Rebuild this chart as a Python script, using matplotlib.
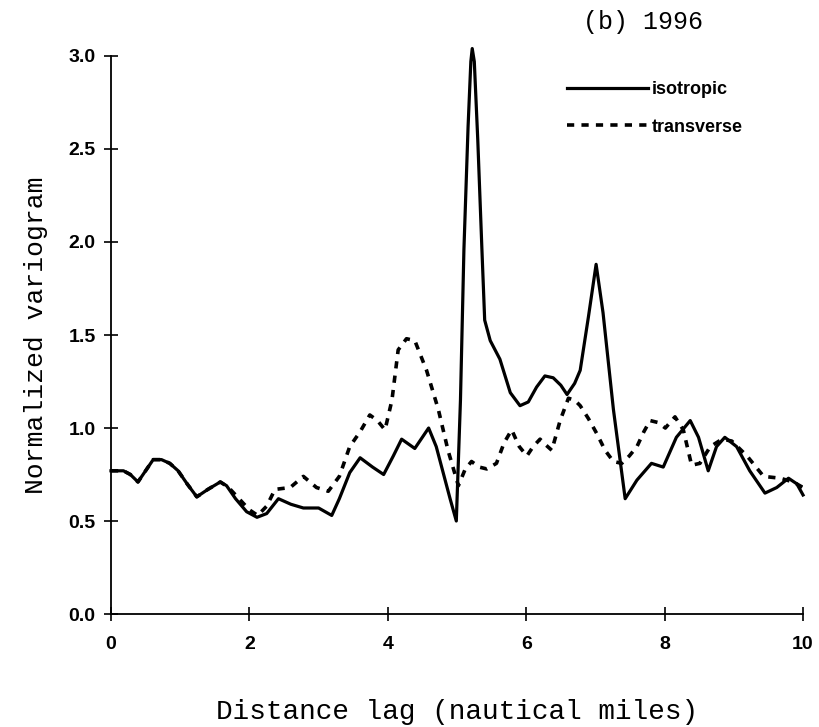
import matplotlib
matplotlib.use("Agg")
import matplotlib.pyplot as plt

# distance lag (nautical miles) and normalized variogram values
iso_x = [0.00, 0.18, 0.28, 0.39, 0.50, 0.61, 0.73, 0.85, 0.97, 1.10,
         1.24, 1.40, 1.58, 1.67, 1.80, 1.96, 2.11, 2.25, 2.42, 2.60,
         2.78, 3.00, 3.19, 3.30, 3.45, 3.60, 3.78, 3.94, 4.08, 4.20,
         4.39, 4.59, 4.70, 4.80, 4.90, 4.99, 5.05, 5.10, 5.16, 5.20,
         5.22, 5.25, 5.30, 5.36, 5.40, 5.48, 5.62, 5.77, 5.91, 6.03,
         6.15, 6.27, 6.39, 6.50, 6.59, 6.70, 6.78, 6.90, 7.01, 7.11,
         7.26, 7.43, 7.60, 7.81, 7.98, 8.17, 8.37, 8.49, 8.63, 8.75,
         8.87, 9.04, 9.23, 9.45, 9.62, 9.79, 9.91, 10.0]
iso_y = [0.77, 0.77, 0.75, 0.71, 0.77, 0.83, 0.83, 0.81, 0.77, 0.70,
         0.63, 0.67, 0.71, 0.69, 0.62, 0.55, 0.52, 0.54, 0.62, 0.59,
         0.57, 0.57, 0.53, 0.62, 0.76, 0.84, 0.79, 0.75, 0.85, 0.94,
         0.89, 1.00, 0.90, 0.76, 0.62, 0.50, 1.15, 1.96, 2.62, 2.97,
         3.04, 2.97, 2.55, 1.96, 1.58, 1.47, 1.37, 1.19, 1.12, 1.14,
         1.22, 1.28, 1.27, 1.23, 1.18, 1.24, 1.31, 1.60, 1.88, 1.62,
         1.10, 0.62, 0.72, 0.81, 0.79, 0.95, 1.04, 0.95, 0.77, 0.90,
         0.95, 0.90, 0.77, 0.65, 0.68, 0.73, 0.70, 0.64]

tr_x = [0.00, 0.18, 0.28, 0.39, 0.50, 0.61, 0.73, 0.85, 0.97, 1.10,
        1.24, 1.40, 1.58, 1.70, 1.85, 2.00, 2.12, 2.25, 2.37, 2.59,
        2.78, 2.97, 3.14, 3.30, 3.45, 3.60, 3.74, 3.85, 3.96, 4.06,
        4.15, 4.27, 4.39, 4.56, 4.73, 4.87, 5.02, 5.12, 5.21, 5.32,
        5.43, 5.57, 5.68, 5.79, 5.90, 6.01, 6.10, 6.20, 6.28, 6.37,
        6.49, 6.61, 6.70, 6.78, 6.90, 7.02, 7.14, 7.26, 7.38, 7.49,
        7.60, 7.70, 7.79, 7.90, 8.01, 8.15, 8.27, 8.39, 8.51, 8.66,
        8.83, 8.97, 9.19, 9.43, 9.67, 9.86, 10.0]
tr_y = [0.77, 0.77, 0.75, 0.71, 0.77, 0.83, 0.83, 0.81, 0.77, 0.70,
        0.63, 0.67, 0.71, 0.68, 0.62, 0.56, 0.53, 0.58, 0.67, 0.68,
        0.74, 0.68, 0.66, 0.74, 0.90, 0.98, 1.07, 1.04, 0.99, 1.15,
        1.42, 1.48, 1.47, 1.31, 1.10, 0.88, 0.69, 0.78, 0.82, 0.79,
        0.78, 0.81, 0.92, 0.99, 0.90, 0.85, 0.90, 0.94, 0.91, 0.88,
        1.04, 1.16, 1.15, 1.12, 1.05, 0.97, 0.88, 0.82, 0.81, 0.85,
        0.90, 0.98, 1.04, 1.03, 1.00, 1.06, 0.99, 0.80, 0.81, 0.90,
        0.94, 0.93, 0.85, 0.74, 0.73, 0.71, 0.68]

x_ticks = [0, 2, 4, 6, 8, 10]
y_ticks = [0.0, 0.5, 1.0, 1.5, 2.0, 2.5, 3.0]

mono = "Liberation Mono"
sans = "Liberation Sans"

fig = plt.figure(figsize=(8.19, 7.27), dpi=100)
ax = fig.add_axes([0.1355, 0.1554, 0.845, 0.7676])

ax.plot(iso_x, iso_y, color="black", lw=2.3, label="isotropic",
        solid_joinstyle="round", clip_on=False)
ax.plot(tr_x, tr_y, color="black", lw=2.6, linestyle=(0, (2.0, 2.0)),
        label="transverse")

ax.set_xlim(0, 10)
ax.set_ylim(0, 3.0)
ax.set_xticks(x_ticks)
ax.set_yticks(y_ticks)
ax.set_xticklabels([str(t) for t in x_ticks])
ax.set_yticklabels([f"{t:.1f}" for t in y_ticks])

for side in ["top", "right"]:
    ax.spines[side].set_visible(False)
for side in ["left", "bottom"]:
    ax.spines[side].set_linewidth(1.3)

ax.tick_params(direction="inout", length=10, width=1.2)
ax.tick_params(axis="x", pad=11)
ax.tick_params(axis="y", pad=6)
for lab in ax.get_xticklabels() + ax.get_yticklabels():
    lab.set_fontfamily(sans)
    lab.set_fontweight("bold")
    lab.set_fontsize(14)

ax.set_xlabel("Distance lag (nautical miles)", fontfamily=mono,
              fontsize=20, labelpad=33)
ax.set_ylabel("Normalized variogram", fontfamily=mono, fontsize=19,
              labelpad=15)

fig.text(643 / 819, 1 - 22 / 727, "(b) 1996", fontfamily=mono,
         fontsize=18, ha="center", va="center")

ax.legend(loc="upper left", bbox_to_anchor=(0.692, 0.888),
          bbox_transform=fig.transFigure, frameon=False,
          prop={"family": sans, "weight": "bold", "size": 13},
          handlelength=4.5, handletextpad=0.2, borderpad=0,
          borderaxespad=0, labelspacing=1.12)

fig.savefig("out.png", dpi=100)
